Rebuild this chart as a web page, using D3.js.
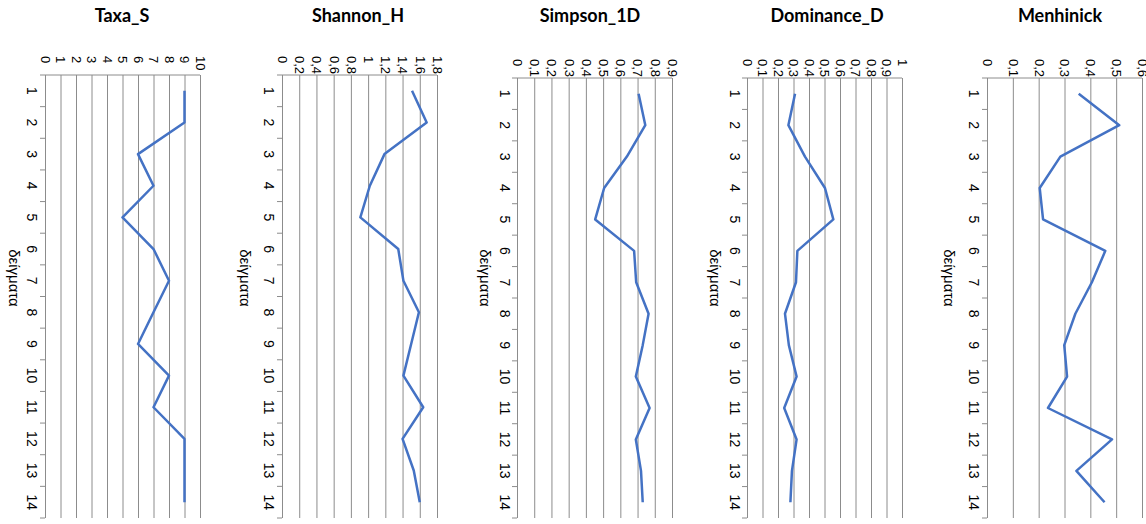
<!DOCTYPE html>
<html lang="el">
  <head>
    <meta charset="UTF-8" />
    <title>Diversity indices per sample</title>
    <script src="https://d3js.org/d3.v7.min.js"></script>
    <style>
      html,
      body {
        margin: 0;
        padding: 0;
        background: #fff;
      }
      .title {
        font-family: Lato, "Open Sans", sans-serif;
        font-weight: bold;
        font-size: 18px;
        fill: #000;
      }
      .tick text,
      .cat-label {
        font-family: "Liberation Sans", Arial, sans-serif;
        fill: #000;
      }
      .axis-title {
        font-family: "Liberation Sans", Arial, sans-serif;
        font-size: 15px;
      }
    </style>
  </head>
  <body>
    <svg id="chart" width="1146" height="524"></svg>
    <script>
      // samples (δείγματα)
      const samples = d3.range(1, 15);

      const taxaS = [9, 9, 6, 7, 5, 7, 8, 7, 6, 8, 7, 9, 9, 9];
      const shannonH = [1.51, 1.68, 1.19, 1.02, 0.91, 1.35, 1.41, 1.59, 1.5, 1.41, 1.64, 1.4, 1.53, 1.6];
      const simpson1D = [0.706, 0.745, 0.638, 0.506, 0.454, 0.68, 0.692, 0.764, 0.73, 0.69, 0.77, 0.69, 0.72, 0.73];
      const dominanceD = [0.31, 0.267, 0.374, 0.503, 0.557, 0.325, 0.316, 0.245, 0.27, 0.32, 0.24, 0.32, 0.29, 0.28];
      const menhinick = [0.355, 0.512, 0.284, 0.204, 0.217, 0.458, 0.406, 0.342, 0.299, 0.31, 0.236, 0.484, 0.346, 0.455];

      // value axis ticks: [max, step]
      const axisTaxa = [10, 1];
      const axisShannon = [1.8, 0.2];
      const axisSimpson = [0.9, 0.1];
      const axisDominance = [1, 0.1];
      const axisMenhinick = [0.6, 0.1];

      // layout of each panel (screen coords)
      const panels = [
        { title: "Taxa_S", values: taxaS, axis: axisTaxa, x0: 45, x1: 200, top: 75, titleX: 122, catX: 32, nameX: 14 },
        { title: "Shannon_H", values: shannonH, axis: axisShannon, x0: 282, x1: 437, top: 75, titleX: 358, catX: 269, nameX: 245 },
        { title: "Simpson_1D", values: simpson1D, axis: axisSimpson, x0: 517, x1: 672, top: 78, titleX: 590, catX: 505, nameX: 485 },
        { title: "Dominance_D", values: dominanceD, axis: axisDominance, x0: 747, x1: 902, top: 78, titleX: 827, catX: 735, nameX: 715 },
        { title: "Menhinick", values: menhinick, axis: axisMenhinick, x0: 987, x1: 1142, top: 78, titleX: 1060, catX: 974, nameX: 949 },
      ];
      const bottom = 518;

      const svg = d3.select("#chart");
      const fmt = (d) => String(+d.toFixed(2)).replace(".", ",");

      panels.forEach((p) => {
        const g = svg.append("g");
        const [max, step] = p.axis;

        const x = d3.scaleLinear().domain([0, max]).range([p.x0, p.x1]);
        const y = d3.scaleBand().domain(samples).range([p.top, bottom]);

        // title
        g.append("text")
          .attr("class", "title")
          .attr("x", p.titleX)
          .attr("y", 22)
          .attr("text-anchor", "middle")
          .text(p.title);

        // value axis on top with gridlines
        const ticks = d3.range(0, max + step / 2, step).map((d) => +d.toFixed(2));
        const xAxis = g
          .append("g")
          .attr("transform", `translate(0,${p.top})`)
          .call(
            d3
              .axisTop(x)
              .tickValues(ticks)
              .tickSize(-(bottom - p.top))
              .tickFormat(fmt)
          );
        xAxis.select(".domain").attr("stroke", "#8c8c8c").attr("d", `M${p.x0},0H${p.x1}`);
        xAxis.selectAll(".tick line").attr("stroke", "#8c8c8c");
        xAxis
          .selectAll(".tick text")
          .attr("x", 0)
          .attr("y", 0)
          .attr("dy", "0.35em")
          .attr("text-anchor", "start")
          .attr("transform", "translate(0,-19) rotate(90)")
          .style("font-size", "13px");

        // category axis ticks at band edges
        const edges = samples.map((d) => y(d)).concat([bottom]);
        g.selectAll(".cat-tick")
          .data(edges)
          .enter()
          .append("line")
          .attr("x1", p.x0 - 5)
          .attr("x2", p.x0)
          .attr("y1", (d) => d)
          .attr("y2", (d) => d)
          .attr("stroke", "#8c8c8c");

        g.selectAll(".cat-label")
          .data(samples)
          .enter()
          .append("text")
          .attr("class", "cat-label")
          .attr("text-anchor", "middle")
          .attr("dy", "0.35em")
          .style("font-size", "14px")
          .attr("transform", (d) => `translate(${p.catX},${y(d) + y.bandwidth() / 2}) rotate(90)`)
          .text((d) => d);

        g.append("text")
          .attr("class", "axis-title")
          .attr("text-anchor", "middle")
          .attr("dy", "0.35em")
          .attr("transform", `translate(${p.nameX},278) rotate(90)`)
          .text("δείγματα");

        // line
        const line = d3
          .line()
          .x((d) => x(d))
          .y((d, i) => y(samples[i]) + y.bandwidth() / 2);

        g.append("path")
          .datum(p.values)
          .attr("fill", "none")
          .attr("stroke", "#4472C4")
          .attr("stroke-width", 2.5)
          .attr("stroke-linejoin", "round")
          .attr("d", line);
      });
    </script>
  </body>
</html>
